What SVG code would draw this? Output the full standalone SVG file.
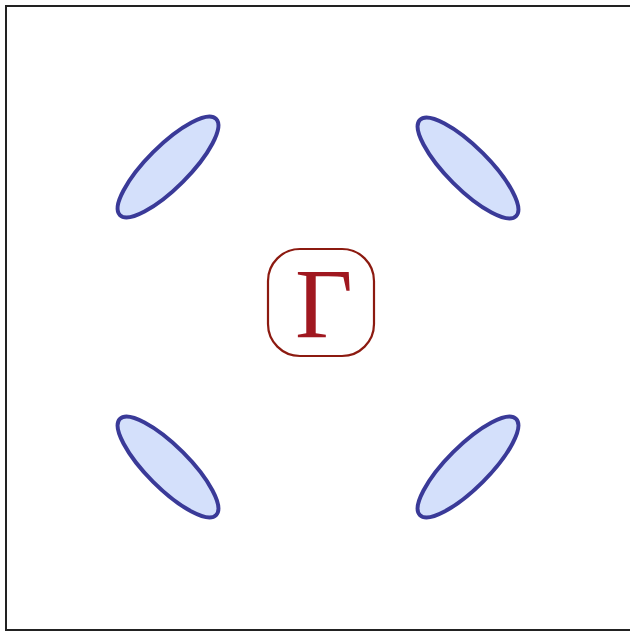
<svg xmlns="http://www.w3.org/2000/svg" width="630" height="631" viewBox="0 0 630 631">
<style>
.pocket{fill:#d4e0fb;stroke:#3a3a98;stroke-width:4}
.gbox{fill:#fff;stroke:#8c1a10;stroke-width:2.2}
.glabel{font-family:"Liberation Serif","Times New Roman",serif;font-size:100px;fill:#a01820;text-anchor:middle}
</style>
<rect x="6" y="6" width="626" height="624" fill="#fff" stroke="#222" stroke-width="2"/>
<g id="pocket-tl"><ellipse class="pocket" cx="168" cy="167" rx="68" ry="21" transform="rotate(-45 168 167)"/></g>
<g id="pocket-tr"><ellipse class="pocket" cx="468" cy="168" rx="68" ry="21" transform="rotate(45 468 168)"/></g>
<g id="pocket-bl"><ellipse class="pocket" cx="168" cy="467" rx="68" ry="21" transform="rotate(45 168 467)"/></g>
<g id="pocket-br"><ellipse class="pocket" cx="468" cy="467" rx="68" ry="21" transform="rotate(-45 468 467)"/></g>
<g id="gamma"><rect class="gbox" x="268" y="249" width="106" height="107" rx="32"/><text class="glabel" x="324" y="337">Γ</text></g>
<g id="connectors"/>
</svg>
